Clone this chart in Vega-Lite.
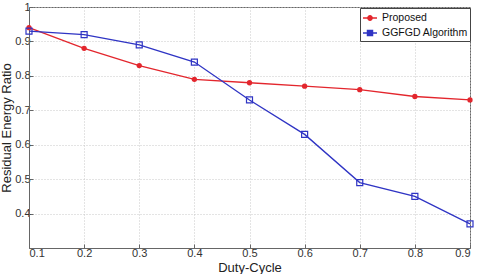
{
  "$schema": "https://vega.github.io/schema/vega-lite/v6.json",
  "width": 441,
  "height": 241,
  "autosize": "none",
  "padding": {"left": 29, "top": 7, "right": 9, "bottom": 26},
  "background": "white",
  "config": {
    "view": {"stroke": "#666", "strokeWidth": 1},
    "font": "Liberation Sans",
    "axis": {
      "labelFont": "Liberation Sans",
      "labelFontSize": 11,
      "labelColor": "#333",
      "titleFont": "Liberation Sans",
      "titleFontSize": 13,
      "titleFontWeight": "normal",
      "titleColor": "#222",
      "domainColor": "#666",
      "tickColor": "#666",
      "tickSize": -4,
      "gridColor": "#c8c8c8",
      "gridDash": [1, 2],
      "gridWidth": 1
    }
  },
  "data": {
    "values": [
      {"duty": 0.1, "ratio": 0.94, "series": "Proposed"},
      {"duty": 0.2, "ratio": 0.88, "series": "Proposed"},
      {"duty": 0.3, "ratio": 0.83, "series": "Proposed"},
      {"duty": 0.4, "ratio": 0.79, "series": "Proposed"},
      {"duty": 0.5, "ratio": 0.78, "series": "Proposed"},
      {"duty": 0.6, "ratio": 0.77, "series": "Proposed"},
      {"duty": 0.7, "ratio": 0.76, "series": "Proposed"},
      {"duty": 0.8, "ratio": 0.74, "series": "Proposed"},
      {"duty": 0.9, "ratio": 0.73, "series": "Proposed"},
      {"duty": 0.1, "ratio": 0.93, "series": "GGFGD Algorithm"},
      {"duty": 0.2, "ratio": 0.92, "series": "GGFGD Algorithm"},
      {"duty": 0.3, "ratio": 0.89, "series": "GGFGD Algorithm"},
      {"duty": 0.4, "ratio": 0.84, "series": "GGFGD Algorithm"},
      {"duty": 0.5, "ratio": 0.73, "series": "GGFGD Algorithm"},
      {"duty": 0.6, "ratio": 0.63, "series": "GGFGD Algorithm"},
      {"duty": 0.7, "ratio": 0.49, "series": "GGFGD Algorithm"},
      {"duty": 0.8, "ratio": 0.45, "series": "GGFGD Algorithm"},
      {"duty": 0.9, "ratio": 0.37, "series": "GGFGD Algorithm"}
    ]
  },
  "encoding": {
    "x": {
      "field": "duty",
      "type": "quantitative",
      "scale": {"domain": [0.1, 0.9], "nice": false},
      "axis": {
        "title": "Duty-Cycle",
        "values": [0.1, 0.2, 0.3, 0.4, 0.5, 0.6, 0.7, 0.8, 0.9],
        "format": ".1f",
        "labelPadding": 3,
        "titlePadding": 3
      }
    },
    "y": {
      "field": "ratio",
      "type": "quantitative",
      "scale": {"domain": [0.3, 1], "nice": false, "zero": false},
      "axis": {
        "title": "Residual Energy Ratio",
        "values": [0.4, 0.5, 0.6, 0.7, 0.8, 0.9, 1],
        "format": "~g",
        "labelPadding": 3,
        "titlePadding": 1
      }
    },
    "color": {
      "field": "series",
      "type": "nominal",
      "sort": ["Proposed", "GGFGD Algorithm"],
      "scale": {"domain": ["Proposed", "GGFGD Algorithm"], "range": ["#e3262d", "#2f34c4"]},
      "legend": {
        "title": null,
        "orient": "none",
        "legendX": 331,
        "legendY": 1,
        "padding": 2,
        "strokeColor": "#444",
        "fillColor": "white",
        "labelFont": "Liberation Sans",
        "labelFontSize": 10.5,
        "labelColor": "#111",
        "labelOffset": 4,
        "rowPadding": 1,
        "symbolSize": 196,
        "symbolStrokeWidth": 1.3,
        "encode": {
          "symbols": {
            "update": {
              "shape": {"signal": "datum.value === 'Proposed' ? 'M-1,0L1,0M-0.32,0A0.32,0.32 0 1,0 0.32,0A0.32,0.32 0 1,0 -0.32,0Z' : 'M-1,0L-0.37,0M0.37,0L1,0M-0.37,-0.37L0.37,-0.37L0.37,0.37L-0.37,0.37Z'"},
              "fill": {"signal": "datum.value === 'Proposed' ? '#e3262d' : 'transparent'"},
              "fillOpacity": {"value": 1}
            }
          }
        }
      }
    }
  },
  "layer": [
    {"mark": {"type": "line", "strokeWidth": 1.3}},
    {
      "transform": [{"filter": "datum.series === 'Proposed'"}],
      "mark": {"type": "point", "shape": "circle", "filled": true, "size": 28, "opacity": 1}
    },
    {
      "transform": [{"filter": "datum.series === 'GGFGD Algorithm'"}],
      "mark": {"type": "point", "shape": "square", "filled": false, "size": 36, "strokeWidth": 1.2, "opacity": 1}
    }
  ]
}
